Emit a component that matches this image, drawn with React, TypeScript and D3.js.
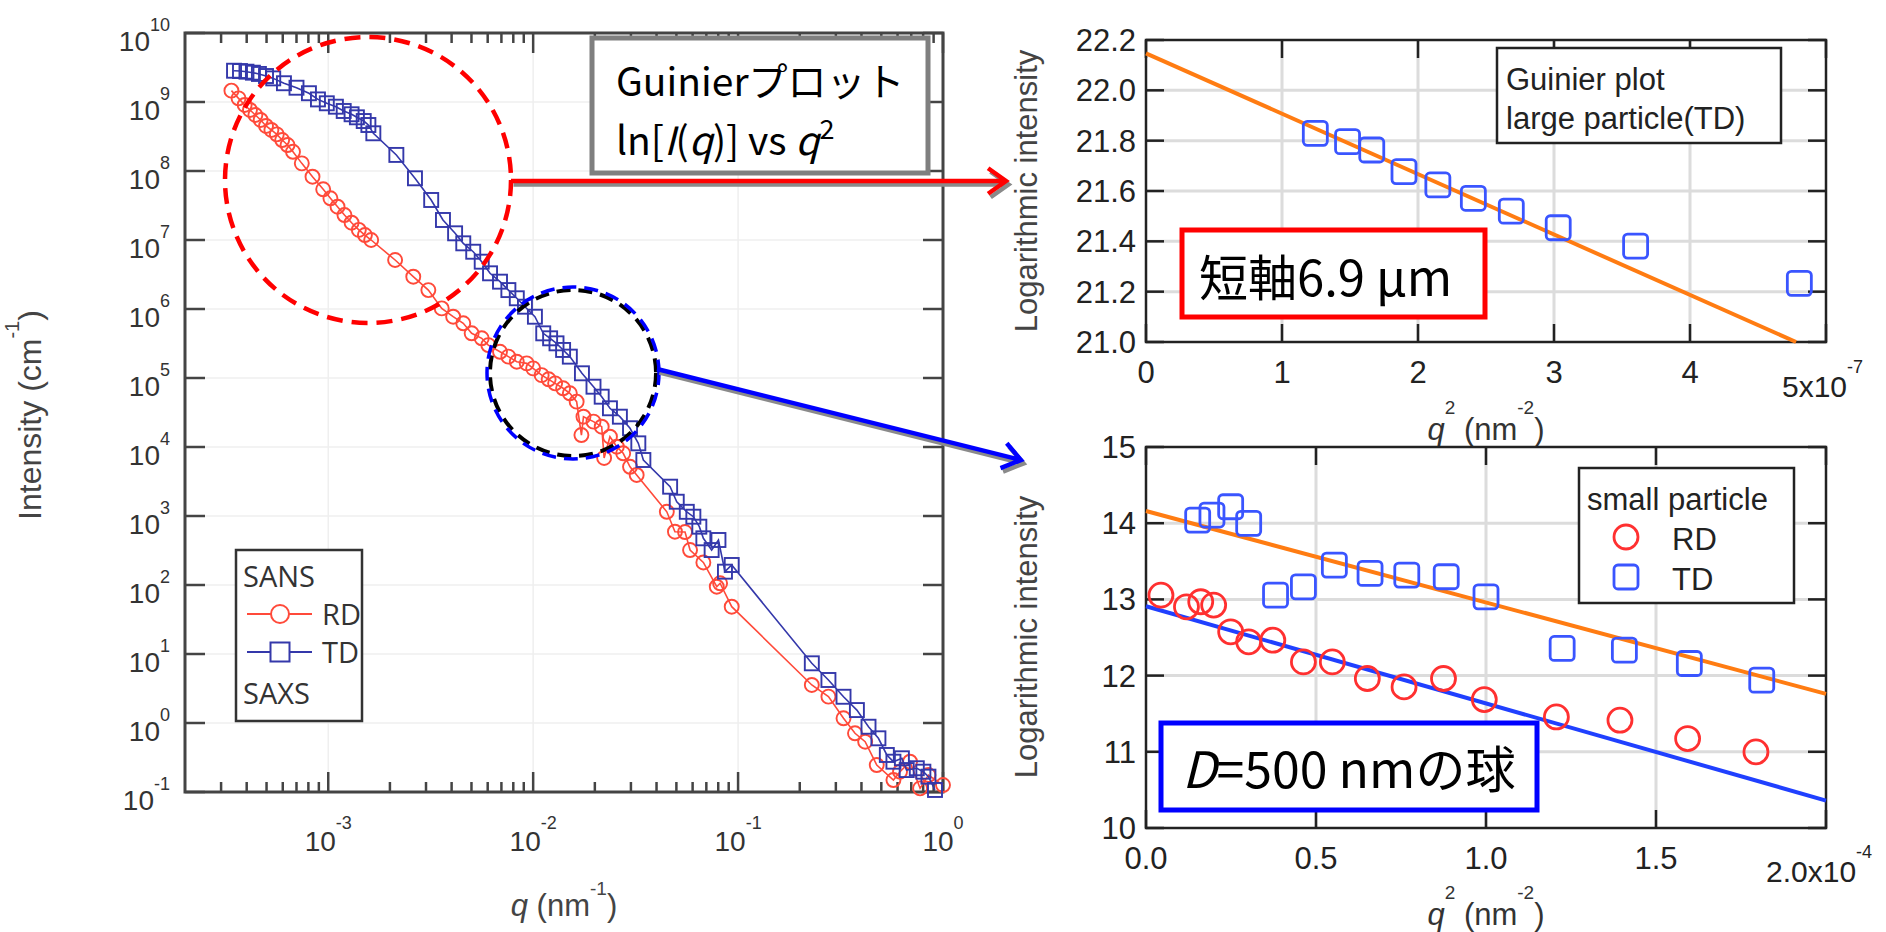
import React, { useEffect } from 'react';
import * as d3 from 'd3';

// ---------------- data ----------------
// Left: SANS/SAXS intensity vs q (log-log)
const tdQ = [3.47e-4, 3.71e-4, 3.99e-4, 4.29e-4, 4.59e-4, 4.97e-4, 5.39e-4, 6.08e-4, 7.0e-4, 8.05e-4, 8.91e-4, 9.84e-4, 1.09e-3, 1.19e-3, 1.30e-3, 1.38e-3, 1.49e-3, 1.57e-3, 1.66e-3, 2.15e-3, 2.65e-3, 3.18e-3, 3.63e-3, 4.16e-3, 4.56e-3, 5.10e-3, 5.61e-3, 6.16e-3, 6.89e-3, 7.57e-3, 8.32e-3, 9.12e-3, 1.02e-2, 1.12e-2, 1.21e-2, 1.30e-2, 1.40e-2, 1.51e-2, 1.73e-2, 1.97e-2, 2.16e-2, 2.37e-2, 2.65e-2, 2.97e-2, 3.26e-2, 3.45e-2, 4.66e-2, 5.02e-2, 5.62e-2, 6.05e-2, 6.47e-2, 6.77e-2, 7.43e-2, 8.02e-2, 8.63e-2, 9.31e-2, 0.229, 0.276, 0.327, 0.380, 0.433, 0.484, 0.532, 0.573, 0.630, 0.665, 0.745, 0.802, 0.849, 0.914];
const tdI = [2.84e9, 2.81e9, 2.75e9, 2.66e9, 2.55e9, 2.38e9, 2.2e9, 1.87e9, 1.61e9, 1.34e9, 1.09e9, 9.58e8, 8.55e8, 7.41e8, 6.64e8, 6.0e8, 5.3e8, 4.64e8, 3.52e8, 1.71e8, 7.84e7, 3.8e7, 1.95e7, 1.25e7, 8.95e6, 6.76e6, 4.85e6, 3.29e6, 2.49e6, 1.88e6, 1.43e6, 1.08e6, 7.73e5, 4.44e5, 3.76e5, 3.18e5, 2.55e5, 2.04e5, 1.17e5, 7.48e4, 5.36e4, 3.64e4, 2.75e4, 1.87e4, 1.13e4, 6.48e3, 2.66e3, 1.61e3, 1.15e3, 977, 700, 475, 321, 449, 156, 195, 7.33, 4.2, 2.4, 1.54, 0.883, 0.6, 0.344, 0.275, 0.308, 0.208, 0.221, 0.197, 0.167, 0.107];
const rdQ = [3.37e-4, 3.65e-4, 3.91e-4, 4.15e-4, 4.41e-4, 4.68e-4, 4.97e-4, 5.28e-4, 5.61e-4, 5.96e-4, 6.33e-4, 6.73e-4, 7.43e-4, 8.38e-4, 9.45e-4, 1.025e-3, 1.11e-3, 1.20e-3, 1.30e-3, 1.41e-3, 1.51e-3, 1.62e-3, 2.12e-3, 2.60e-3, 3.08e-3, 3.58e-3, 4.07e-3, 4.56e-3, 5.01e-3, 5.61e-3, 6.04e-3, 6.89e-3, 7.57e-3, 8.32e-3, 9.3e-3, 1.0e-2, 1.10e-2, 1.19e-2, 1.28e-2, 1.40e-2, 1.51e-2, 1.63e-2, 1.72e-2, 1.76e-2, 1.97e-2, 2.16e-2, 2.22e-2, 2.37e-2, 2.56e-2, 2.75e-2, 2.97e-2, 3.2e-2, 4.49e-2, 4.92e-2, 5.51e-2, 5.83e-2, 6.77e-2, 7.87e-2, 8.17e-2, 9.31e-2, 0.229, 0.276, 0.327, 0.372, 0.417, 0.475, 0.573, 0.617, 0.69, 0.773, 0.849, 1.0];
const rdI = [1.46e9, 1.13e9, 9.05e8, 7.66e8, 6.48e8, 5.49e8, 4.49e8, 3.93e8, 3.4e8, 2.81e8, 2.38e8, 1.9e8, 1.29e8, 8.27e7, 5.43e7, 4.02e7, 3.04e7, 2.3e7, 1.78e7, 1.4e7, 1.18e7, 1.0e7, 5.13e6, 2.94e6, 1.88e6, 1.02e6, 7.73e5, 6.2e5, 4.45e5, 3.76e5, 3.0e5, 2.4e5, 2.04e5, 1.72e5, 1.63e5, 1.38e5, 1.1e5, 9.57e4, 8.37e4, 7.1e4, 6.0e4, 4.54e4, 1.49e4, 2.75e4, 2.33e4, 1.97e4, 6.93e3, 1.41e4, 1.01e4, 8.1e3, 5.17e3, 3.93e3, 1.15e3, 592, 586, 321, 212, 94.4, 106, 48.5, 3.56, 2.41, 1.17, 0.71, 0.536, 0.246, 0.149, 0.197, 0.275, 0.113, 0.176, 0.126];
const mainXMajor = [1e-3, 1e-2, 1e-1, 1];
const mainXExp = ['-3', '-2', '-1', '0'];
const mainYExp = [-1, 0, 1, 2, 3, 4, 5, 6, 7, 8, 9, 10];

// Top right: Guinier plot, large particle (TD)
const largeQ2 = [1.245e-7, 1.482e-7, 1.66e-7, 1.897e-7, 2.146e-7, 2.407e-7, 2.686e-7, 3.031e-7, 3.60e-7, 4.804e-7];
const largeLnI = [21.829, 21.796, 21.763, 21.677, 21.624, 21.571, 21.52, 21.454, 21.381, 21.233];
const largeFitQ2 = [0, 4.78e-7];
const largeFitLnI = [22.147, 21.0];
const largeYTicks = [21.0, 21.2, 21.4, 21.6, 21.8, 22.0, 22.2];
const largeXTicks = [0, 1e-7, 2e-7, 3e-7, 4e-7, 5e-7];
const largeXLabels = ['0', '1', '2', '3', '4'];

// Bottom right: Guinier plot, small particle
const smallRdQ2 = [0.044e-4, 0.119e-4, 0.161e-4, 0.199e-4, 0.249e-4, 0.302e-4, 0.373e-4, 0.463e-4, 0.548e-4, 0.651e-4, 0.759e-4, 0.875e-4, 0.995e-4, 1.207e-4, 1.394e-4, 1.593e-4, 1.794e-4];
const smallRdLnI = [13.056, 12.903, 12.969, 12.925, 12.575, 12.443, 12.465, 12.18, 12.18, 11.962, 11.852, 11.962, 11.686, 11.458, 11.415, 11.174, 10.999];
const smallTdQ2 = [0.152e-4, 0.194e-4, 0.249e-4, 0.302e-4, 0.381e-4, 0.463e-4, 0.554e-4, 0.659e-4, 0.767e-4, 0.883e-4, 1.0e-4, 1.224e-4, 1.407e-4, 1.598e-4, 1.811e-4];
const smallTdLnI = [14.041, 14.107, 14.216, 13.998, 13.056, 13.165, 13.45, 13.341, 13.319, 13.297, 13.034, 12.356, 12.334, 12.159, 11.94];
const fitTdQ2 = [0, 2.0e-4];
const fitTdLnI = [14.16, 11.76];
const fitRdQ2 = [0, 2.0e-4];
const fitRdLnI = [12.91, 10.36];
const smallYTicks = [10, 11, 12, 13, 14, 15];
const smallXTicks = [0, 0.5e-4, 1.0e-4, 1.5e-4, 2.0e-4];
const smallXLabels = ['0.0', '0.5', '1.0', '1.5'];

// ---------------- styles ----------------
const SANS = "'Liberation Sans', Arial, Helvetica, sans-serif";
const JP = "'Noto Sans CJK JP', 'Noto Sans', sans-serif";
const LEG = "'Open Sans', 'Noto Sans', sans-serif";
const RED = '#ff4a3a';
const BLUE = '#3438aa';
const RED2 = '#ff3030';
const BLUE2 = '#3a55ff';
const ORANGE = '#ff7c12';
const FITBLUE = '#2040ff';

// scales
const xL = d3.scaleLog().domain([2e-4, 1]).range([185, 943]);
const yL = d3.scaleLog().domain([0.1, 1e10]).range([792, 33]);
const xT = d3.scaleLinear().domain([0, 5e-7]).range([1146, 1826]);
const yT = d3.scaleLinear().domain([21.0, 22.2]).range([342, 40]);
const xB = d3.scaleLinear().domain([0, 2e-4]).range([1146, 1826]);
const yB = d3.scaleLinear().domain([10, 15]).range([828, 447]);

function Sq({ x, y, s, color, w, rx = 0, fill = 'none' }: any) {
  return <rect x={x - s / 2} y={y - s / 2} width={s} height={s} rx={rx} fill={fill} stroke={color} strokeWidth={w} />;
}

function Arrow({ x1, y1, x2, y2, color }: any) {
  const a = Math.atan2(y2 - y1, x2 - x1);
  const L = 22, W = 0.62;
  const p1 = [x2 - L * Math.cos(a - W), y2 - L * Math.sin(a - W)];
  const p2 = [x2 - L * Math.cos(a + W), y2 - L * Math.sin(a + W)];
  const d = `M${x1},${y1}L${x2},${y2}M${p1[0]},${p1[1]}L${x2},${y2}L${p2[0]},${p2[1]}`;
  return (
    <g fill="none" strokeLinecap="butt" strokeLinejoin="miter">
      <path d={d} transform="translate(2.5,3.5)" stroke="#8a8a8a" strokeWidth={4.5} />
      <path d={d} stroke={color} strokeWidth={4.5} />
    </g>
  );
}

export default function App() {
  useEffect(() => {
    document.body.style.margin = '0';
    document.body.style.background = '#fff';
  }, []);

  const minorX: number[] = [];
  for (let e = -4; e <= -1; e++) for (let m = 2; m <= 9; m++) {
    const v = m * Math.pow(10, e);
    if (v > 2.05e-4 && v < 1) minorX.push(v);
  }
  const lineTD = d3.line<number>().x((_, i) => xL(tdQ[i])).y((d) => yL(d));
  const lineRD = d3.line<number>().x((_, i) => xL(rdQ[i])).y((d) => yL(d));
  const yMajorVals = mainYExp.map((e) => Math.pow(10, e));

  const tickColor = '#333';
  const axisColor = '#444';

  const rightPlot = (
    xs: any, ys: any, xTicks: number[], yTicks: number[], yFmt: (v: number) => string,
    xLabels: string[], lastLabel: [string, string], lastX: number, titleY: number, lastY: number, titleCY: number
  ) => {
    const [x0, x1] = xs.range();
    const [y1, y0] = ys.range();
    return (
      <g>
        {xTicks.slice(1, -1).map((t, i) => (
          <line key={'gx' + i} x1={xs(t)} x2={xs(t)} y1={y0} y2={y1} stroke="#dcdcdc" strokeWidth={3} />
        ))}
        {yTicks.slice(1, -1).map((t, i) => (
          <line key={'gy' + i} x1={x0} x2={x1} y1={ys(t)} y2={ys(t)} stroke="#dcdcdc" strokeWidth={3} />
        ))}
        {xTicks.map((t, i) => (
          <g key={'tx' + i} stroke="#222" strokeWidth={2.5}>
            <line x1={xs(t)} x2={xs(t)} y1={y1} y2={y1 - 18} />
            <line x1={xs(t)} x2={xs(t)} y1={y0} y2={y0 + 18} />
          </g>
        ))}
        {yTicks.map((t, i) => (
          <g key={'ty' + i} stroke="#222" strokeWidth={2.5}>
            <line x1={x0} x2={x0 + 18} y1={ys(t)} y2={ys(t)} />
            <line x1={x1} x2={x1 - 18} y1={ys(t)} y2={ys(t)} />
          </g>
        ))}
        <rect x={x0} y={y0} width={x1 - x0} height={y1 - y0} fill="none" stroke="#222" strokeWidth={2.5} />
        {yTicks.map((t, i) => (
          <text key={'ly' + i} x={x0 - 10} y={ys(t) + 11} textAnchor="end" fontSize={31} fill="#222" fontFamily={SANS}>{yFmt(t)}</text>
        ))}
        {xLabels.map((s, i) => (
          <text key={'lx' + i} x={xs(xTicks[i])} y={y1 + 41} textAnchor="middle" fontSize={31} fill="#222" fontFamily={SANS}>{s}</text>
        ))}
        <text x={lastX} y={lastY} fontSize={30} fill="#222" fontFamily={SANS}>
          {lastLabel[0]}<tspan fontSize={18} dy={-24}>{lastLabel[1]}</tspan>
        </text>
        <text x={(x0 + x1) / 2} y={titleY} textAnchor="middle" fontSize={31} fill="#333" fontFamily={SANS}>
          <tspan fontStyle="italic">q</tspan><tspan fontSize={19} dy={-26}>2</tspan><tspan dy={26}>{' (nm'}</tspan><tspan fontSize={19} dy={-26}>-2</tspan><tspan dy={26}>)</tspan>
        </text>
        <text transform={`translate(1037,${titleCY}) rotate(-90)`} textAnchor="middle" fontSize={31} fill="#444" fontFamily={SANS}>Logarithmic intensity</text>
      </g>
    );
  };

  return (
    <svg width={1886} height={932} viewBox="0 0 1886 932" style={{ position: 'absolute', left: 0, top: 0, background: '#fff' }}>
      <rect x={0} y={0} width={1886} height={932} fill="#fff" />

      {/* ================= LEFT PLOT ================= */}
      <g>
        {yMajorVals.slice(1, -1).map((v, i) => (
          <line key={'lgy' + i} x1={185} x2={943} y1={yL(v)} y2={yL(v)} stroke="#efefef" strokeWidth={1.5} />
        ))}
        {mainXMajor.slice(0, -1).map((v, i) => (
          <line key={'lgx' + i} x1={xL(v)} x2={xL(v)} y1={33} y2={792} stroke="#efefef" strokeWidth={1.5} />
        ))}
        {mainXMajor.map((v, i) => (
          <g key={'lxt' + i} stroke={axisColor} strokeWidth={2.5}>
            <line x1={xL(v)} x2={xL(v)} y1={792} y2={772} />
            <line x1={xL(v)} x2={xL(v)} y1={33} y2={53} />
          </g>
        ))}
        {minorX.map((v, i) => (
          <g key={'lxm' + i} stroke={axisColor} strokeWidth={2.5}>
            <line x1={xL(v)} x2={xL(v)} y1={792} y2={782} />
            <line x1={xL(v)} x2={xL(v)} y1={33} y2={43} />
          </g>
        ))}
        {yMajorVals.map((v, i) => (
          <g key={'lyt' + i} stroke={axisColor} strokeWidth={2.5}>
            <line x1={185} x2={205} y1={yL(v)} y2={yL(v)} />
            <line x1={943} x2={923} y1={yL(v)} y2={yL(v)} />
          </g>
        ))}
        <rect x={185} y={33} width={758} height={759} fill="none" stroke={axisColor} strokeWidth={3} />
        {mainYExp.map((e, i) => (
          <text key={'lyl' + i} x={170} y={yL(Math.pow(10, e)) + 18} textAnchor="end" fontSize={28} fill={tickColor} fontFamily={SANS}>
            10<tspan fontSize={18} dy={-20}>{String(e)}</tspan>
          </text>
        ))}
        {mainXMajor.map((v, i) => (
          <text key={'lxl' + i} x={xL(v)} y={851} textAnchor="middle" fontSize={28} fill={tickColor} fontFamily={SANS}>
            10<tspan fontSize={18} dy={-22}>{mainXExp[i]}</tspan>
          </text>
        ))}
        <text x={564} y={916} textAnchor="middle" fontSize={31} fill="#444" fontFamily={SANS}>
          <tspan fontStyle="italic">q</tspan>{' (nm'}<tspan fontSize={19} dy={-21}>-1</tspan><tspan dy={21}>)</tspan>
        </text>
        <text transform="translate(41,415) rotate(-90)" textAnchor="middle" fontSize={32} fill="#444" fontFamily={SANS}>
          {'Intensity (cm'}<tspan fontSize={20} dy={-22}>-1</tspan><tspan dy={22}>)</tspan>
        </text>

        <path d={lineRD(rdI) || ''} fill="none" stroke={RED} strokeWidth={1.6} />
        {rdI.map((v, i) => (
          <circle key={'rd' + i} cx={xL(rdQ[i])} cy={yL(v)} r={7} fill="none" stroke={RED} strokeWidth={1.9} />
        ))}
        <path d={lineTD(tdI) || ''} fill="none" stroke={BLUE} strokeWidth={1.6} />
        {tdI.map((v, i) => (
          <Sq key={'td' + i} x={xL(tdQ[i])} y={yL(v)} s={14} color={BLUE} w={1.9} />
        ))}

        <rect x={236} y={550} width={126} height={171} fill="#fff" stroke="#333" strokeWidth={2.5} />
        <text x={243} y={587} fontSize={29} fill="#333" fontFamily={LEG}>SANS</text>
        <line x1={247} x2={312} y1={614} y2={614} stroke={RED} strokeWidth={2} />
        <circle cx={280} cy={614} r={9} fill="#fff" stroke={RED} strokeWidth={2} />
        <text x={322} y={625} fontSize={29} fill="#333" fontFamily={LEG}>RD</text>
        <line x1={247} x2={312} y1={652} y2={652} stroke={BLUE} strokeWidth={2} />
        <Sq x={280} y={652} s={19} color={BLUE} w={2} fill="#fff" />
        <text x={322} y={663} fontSize={29} fill="#333" fontFamily={LEG}>TD</text>
        <text x={243} y={704} fontSize={29} fill="#333" fontFamily={LEG}>SAXS</text>
      </g>

      {/* ================= TOP RIGHT ================= */}
      {rightPlot(xT, yT, largeXTicks, largeYTicks, (v) => v.toFixed(1), largeXLabels, ['5x10', '-7'], 1782, 440, 397, 191)}
      <path
        d={d3.line<number>().x((_, i) => xT(largeFitQ2[i])).y((d) => yT(d))(largeFitLnI) || ''}
        stroke={ORANGE} strokeWidth={4} fill="none"
      />
      {largeLnI.map((v, i) => (
        <Sq key={'lg' + i} x={xT(largeQ2[i])} y={yT(v)} s={24} rx={4} color={BLUE2} w={2.8} />
      ))}
      <rect x={1497} y={48} width={284} height={95} fill="#fff" stroke="#222" strokeWidth={2.5} />
      <text x={1506} y={90} fontSize={31} fill="#222" fontFamily={SANS}>Guinier plot</text>
      <text x={1506} y={129} fontSize={31} fill="#222" fontFamily={SANS}>large particle(TD)</text>

      {/* ================= BOTTOM RIGHT ================= */}
      {rightPlot(xB, yB, smallXTicks, smallYTicks, (v) => String(v), smallXLabels, ['2.0x10', '-4'], 1766, 925, 882, 637)}
      <path
        d={d3.line<number>().x((_, i) => xB(fitTdQ2[i])).y((d) => yB(d))(fitTdLnI) || ''}
        stroke={ORANGE} strokeWidth={4} fill="none"
      />
      <path
        d={d3.line<number>().x((_, i) => xB(fitRdQ2[i])).y((d) => yB(d))(fitRdLnI) || ''}
        stroke={FITBLUE} strokeWidth={4} fill="none"
      />
      {smallTdLnI.map((v, i) => (
        <Sq key={'st' + i} x={xB(smallTdQ2[i])} y={yB(v)} s={24} rx={4} color={BLUE2} w={2.8} />
      ))}
      {smallRdLnI.map((v, i) => (
        <circle key={'sr' + i} cx={xB(smallRdQ2[i])} cy={yB(v)} r={12} fill="none" stroke={RED2} strokeWidth={2.8} />
      ))}
      <rect x={1579} y={468} width={215} height={135} fill="#fff" stroke="#222" strokeWidth={2.5} />
      <text x={1587} y={510} fontSize={31} fill="#222" fontFamily={SANS}>small particle</text>
      <circle cx={1626} cy={537} r={12} fill="none" stroke={RED2} strokeWidth={2.8} />
      <text x={1672} y={550} fontSize={31} fill="#222" fontFamily={SANS}>RD</text>
      <Sq x={1626} y={577} s={24} rx={4} color={BLUE2} w={2.8} />
      <text x={1672} y={590} fontSize={31} fill="#222" fontFamily={SANS}>TD</text>

      {/* ================= ANNOTATIONS ================= */}
      <circle cx={368} cy={180} r={143} fill="none" stroke="#ff0000" strokeWidth={4.5} strokeDasharray="16 9" />
      <circle cx={573} cy={373} r={83} fill="none" stroke="#000" strokeWidth={4} strokeDasharray="14 8" />
      <circle cx={573} cy={373} r={86} fill="none" stroke="#0000ff" strokeWidth={3.5} strokeDasharray="14 8" strokeDashoffset={2} />

      <rect x={592} y={38} width={336} height={135} fill="#fff" stroke="#7f7f7f" strokeWidth={5} />
      <text x={616} y={96} fontSize={39} fill="#000" fontFamily={JP}>Guinierプロット</text>
      <text x={616} y={155} fontSize={39} fill="#000" fontFamily={JP}>
        {'ln['}<tspan fontStyle="italic">I</tspan>{'('}<tspan fontStyle="italic">q</tspan>{')] vs '}<tspan fontStyle="italic">q</tspan><tspan fontSize={27} dy={-16}>2</tspan>
      </text>

      <Arrow x1={511} y1={181} x2={1006} y2={181} color="#ff0000" />
      <Arrow x1={657} y1={369} x2={1021} y2={460} color="#0000ff" />

      <rect x={1182} y={230} width={303} height={87} fill="#fff" stroke="#ff0000" strokeWidth={5} />
      <text x={1199} y={296} fontSize={49} fill="#000" fontFamily={JP}>短軸6.9 µm</text>

      <rect x={1161} y={723} width={376} height={87} fill="#fff" stroke="#0000ff" strokeWidth={5} />
      <text x={1182} y={788} fontSize={50} fill="#000" fontFamily={JP}>
        <tspan fontStyle="italic">D</tspan>=500 nmの球
      </text>
    </svg>
  );
}
